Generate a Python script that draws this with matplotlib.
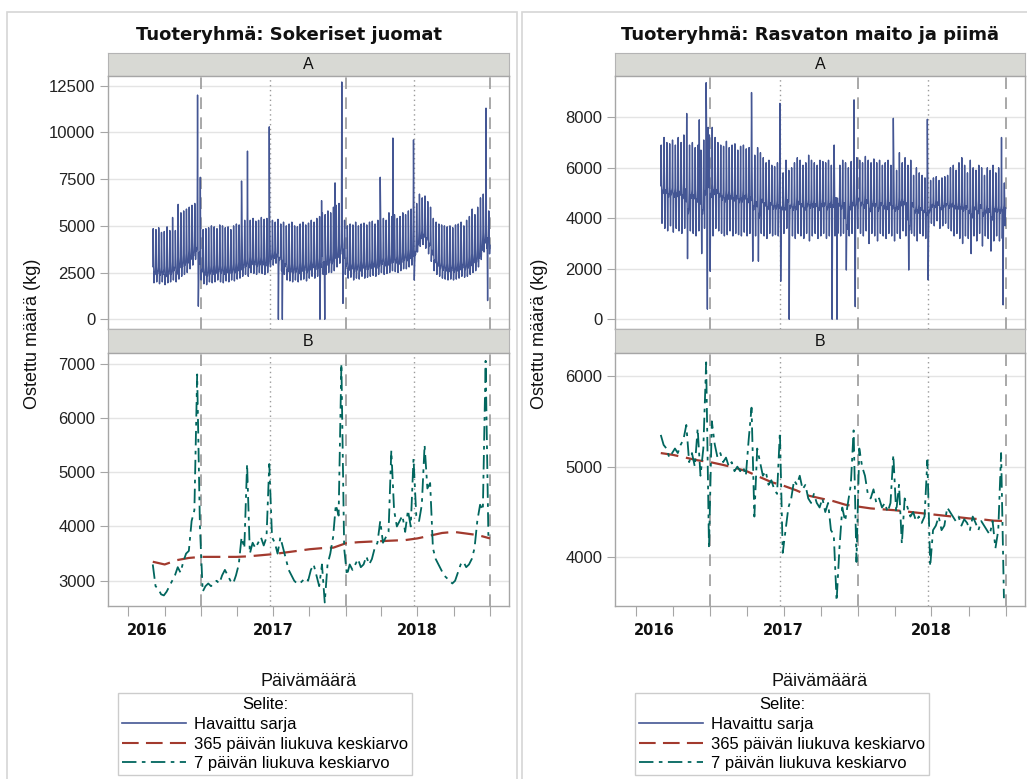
"""Daily purchase amounts for two product groups, SAS-style two-row panels."""

import matplotlib

matplotlib.use("Agg")
import matplotlib.pyplot as plt
import pandas as pd
from matplotlib.lines import Line2D
from matplotlib.patches import Rectangle

FIG_W, FIG_H = 1027, 779

BLUE = "#445694"
RED = "#A23A2E"
GREEN = "#01665E"
REF_GRAY = "#9a9a9a"

plt.rcParams["font.family"] = ["Liberation Sans", "DejaVu Sans"]

DAY_START = "2016-09-01"
DAY_END = "2018-12-31"

# weekday shape of the daily series (Mon..Sun), fraction between weekly low and peak
SUGAR_WEEKDAY = [0.20, 0.15, 0.20, 0.30, 1.00, 0.45, 0.00]
MILK_WEEKDAY = [0.42, 0.38, 0.42, 0.48, 1.00, 0.50, 0.00]

# weekly peak / low of the observed daily series, 7-day blocks from 2016-09-01
SUGAR_PEAK = [
    4850, 4800, 4900, 4650, 4700, 4950, 4750,
    5450, 4750, 6150, 5700, 5800, 5900, 6000, 6100, 6200,
    6000,
    4900, 4800, 4850, 4900, 5000, 4950, 4850, 5050, 5000, 4900, 4950, 4800, 5000, 5100, 5050,
    5200, 5300, 5350, 5300, 5400, 5250, 5300, 5450, 5350, 5400,
    5500,
    5300, 5200, 5350, 5100, 5200,
    5000, 5100, 5200, 5000, 4950, 5100, 5200, 5050, 5150, 5300, 5200, 5400,
    5500, 5700, 5600, 5800, 5700, 6000, 6100, 6200,
    6300,
    5300, 5000, 5100, 5050, 5200, 5000, 5100, 5150, 5050, 5200, 5250, 5100, 5300,
    5500, 5400, 5300, 5700, 5500, 5600, 5400, 5500, 5700, 5600, 5800, 5900,
    6000,
    6200, 6700, 6500, 6600, 6300, 6000,
    5400, 5200, 5100, 5050, 5000, 4950, 5000, 4900, 5050, 5100, 5200, 5000,
    5300, 5500, 5900, 5600, 6000, 6500, 6700, 6600, 5800,
]
SUGAR_LOW = [
    1950, 2000, 1900, 2000, 1850, 1950, 2000,
    2100, 2000, 2150, 2300, 2400, 2500, 2700, 2900, 3200,
    3000,
    2100, 1900, 1850, 2000, 1950, 2000, 2100, 2000, 1950, 2050, 2000, 2100, 2050, 2150, 2200,
    2300, 2400, 2300, 2500, 2450, 2400, 2500, 2450, 2400, 2500,
    2800,
    2900, 3000, 2800, 2600, 2400,
    2100, 2050, 2000, 2100, 2000, 2100, 2150, 2050, 2200, 2300, 2200, 2300,
    2300, 2400, 2400, 2500, 2500, 2600, 2800, 3000,
    3100,
    2400, 2200, 2250, 2100, 2200, 2150, 2300, 2200, 2250, 2300, 2350, 2300, 2400,
    2500, 2400, 2450, 2500, 2600, 2550, 2500, 2600, 2700, 2700, 2800, 2900,
    3000,
    3600, 3900, 4000, 3800, 3500, 3100,
    2600, 2400, 2300, 2200, 2150, 2100, 2150, 2100, 2150, 2200, 2300, 2250,
    2300, 2400, 2500, 2600, 2800, 3200, 3600, 3800, 3500,
]
SUGAR_SPECIAL_DAYS = {
    "2016-12-23": 12000, "2016-12-24": 4200, "2016-12-25": 700, "2016-12-26": 2200,
    "2016-12-30": 7600, "2017-04-13": 7400, "2017-04-28": 9000, "2017-06-22": 10300,
    "2017-07-15": 0, "2017-07-25": 0, "2017-10-28": 0, "2017-11-09": 0,
    "2017-11-01": 6350, "2017-12-05": 7300, "2017-12-22": 12700, "2017-12-24": 4000,
    "2017-12-25": 850, "2018-03-29": 7600, "2018-04-30": 9700, "2018-06-21": 9600,
    "2018-06-23": 2100, "2018-12-21": 11300, "2018-12-24": 4000, "2018-12-25": 1000,
}

MILK_PEAK = [
    6900, 7200, 7000, 6950, 7100, 6900, 7200, 7000, 7300,
    7100, 6900, 7000, 6800, 6900, 6700, 7100,
    7600,
    7300, 7600, 7200,
    7000, 6900, 6850, 7050, 6800, 6900, 6950, 6700, 6850, 6900, 6750, 6800,
    6900,
    6500, 6800, 6600, 6400, 6200, 6300, 6100, 6050, 6200,
    6000,
    5800, 6300, 5900, 6000, 6200,
    6400, 6300, 6100, 6200, 6500, 6300, 6200, 6100, 6300, 6250, 6200, 6300, 6100,
    6900,
    6200, 6100, 6300, 6200, 6000, 6250, 6300,
    6400, 6300, 6200, 6450, 6300, 6200, 6350, 6200, 6300, 6100, 6200, 6300, 6100,
    6200, 5900, 6600, 6200, 6400, 6100, 6300, 5700, 6000, 5800, 5700, 5600, 5650,
    5500, 5600, 5650, 5500, 5600, 5650, 5700,
    6000, 6100, 5900, 6200, 6400, 6100, 5800, 6300, 6000, 5900,
    6100, 6000, 5700, 6000, 5900, 6100, 5800, 6000, 5900,
    5400,
]
MILK_LOW = [
    3800, 3600, 3500, 3700, 3450, 3600, 3500, 3400, 3600,
    2400, 3500, 3400, 3300, 3500, 2600, 3600,
    3500,
    3300, 3300, 3600,
    3500, 3400, 3300, 3350, 3500, 3300, 3400, 3350, 3300, 3450, 3300, 3400,
    2750,
    3300, 2300, 3400, 3300, 3200, 3400, 3300, 3350, 3300,
    3300,
    3400, 3600, 3500, 3300, 3200,
    3400, 3300, 3200, 3400, 3100, 3300, 3400, 3200, 3300, 3400, 3200, 3300, 3400,
    3300, 3400, 3300, 3400, 1950, 3300, 3400, 3300,
    3600, 3400, 3300, 3500, 3000, 3400, 3300, 3100, 3400, 3300, 3200, 3400, 3300,
    3100, 3400, 3200, 3500, 3300, 1950, 3400, 3300, 3100, 3400, 3300, 3200, 3350,
    3800, 3700, 3900, 3600, 3700, 3800, 3600,
    3500, 3300, 3400, 3200, 3000, 3300, 3200, 2600, 3300, 3100,
    3400, 2900, 3300, 3200, 2700, 3100, 3300, 3100, 3200,
    3700,
]
MILK_SPECIAL_DAYS = {
    "2016-11-04": 8150, "2016-12-05": 7900, "2016-12-22": 9370, "2016-12-24": 3000,
    "2016-12-25": 400, "2016-12-27": 7600, "2017-01-01": 1900, "2017-04-13": 8980,
    "2017-04-16": 2300, "2017-06-22": 8550, "2017-06-24": 1500, "2017-07-15": 0,
    "2017-10-29": 0, "2017-11-10": 0, "2017-12-22": 8690, "2017-12-25": 500,
    "2018-03-29": 7960, "2018-06-21": 7920, "2018-06-23": 1560, "2018-12-21": 7200,
    "2018-12-25": 570,
}

# 7-day moving average, one reading per week from 2016-09-01
SUGAR_MA7 = [
    3300, 2900, 2850, 2750, 2730, 2800, 2900, 3000, 3100, 3250,
    3150, 3350, 3500, 3550, 4100, 4300, 6800, 4000, 2800, 2900,
    2950, 2900, 2950, 3000, 2950, 3100, 3200, 3100, 3000, 2950,
    3100, 3300, 3800, 3600, 5150, 3500, 3700, 3600, 3700, 3800,
    3650, 3800, 5150, 3800, 3700, 3500, 3800, 3600, 3400, 3200,
    3100, 3000, 2950, 2950, 3000, 3050, 3000, 3200, 3300, 3100,
    2900, 3300, 2600, 3300, 3500, 3800, 4400, 4200, 7000, 3600,
    3100, 3300, 3200, 3300, 3400, 3250, 3300, 3450, 3300, 3400,
    3600, 3700, 4100, 3700, 3800, 3900, 5400, 4300, 4000, 4100,
    4200, 3900, 4300, 4000, 5250, 4200, 4100, 4400, 5500, 4700,
    4800, 3600, 3400, 3300, 3200, 3100, 3050, 3000, 2950, 3000,
    3150, 3300, 3350, 3250, 3300, 3400, 3600, 4100, 4400, 4300,
    7050, 3800,
]
MILK_MA7 = [
    5350, 5240, 5200, 5100, 5150, 5200, 5150, 5240, 5300, 5460,
    5050, 5150, 5000, 5420, 4900, 5200, 6150, 4100, 5500, 5250,
    5100, 5150, 5050, 5100, 5000, 5050, 4950, 5000, 4950, 5000,
    4900, 5300, 5650, 4450, 5200, 5050, 4900, 4950, 4800, 4850,
    4750, 4700, 5380, 4050, 4300, 4550, 4650, 4850, 4800, 4900,
    4750, 4800, 4650, 4600, 4700, 4600, 4550, 4650, 4500, 4600,
    4300, 4250, 3520, 4100, 4550, 4400, 4600, 4800, 5400, 3950,
    5200, 5000, 4900, 4700, 4650, 4750, 4600, 4650, 4550, 4600,
    4500, 4600, 5130, 4500, 4800, 4150, 4650, 4550, 4450, 4500,
    4400, 4450, 4380, 4450, 5070, 3900, 4300, 4350, 4450, 4300,
    4350, 4550, 4500, 4450, 4400, 4450, 4350, 4420, 4380, 4300,
    4450, 4380, 4300, 4400, 4350, 4300, 4250, 4400, 4100, 4300,
    5150, 3550,
]

# 365-day moving average, month starts Sep 2016 .. Dec 2018 plus last day
MA365_DATES = list(pd.date_range("2016-09-01", "2018-12-01", freq="MS")) + [pd.Timestamp("2018-12-31")]
SUGAR_MA365 = [
    3350, 3300, 3380, 3420, 3440, 3440, 3440, 3440, 3450, 3470, 3490, 3520,
    3550, 3580, 3600, 3610, 3690, 3710, 3720, 3730, 3740, 3750, 3780, 3830,
    3880, 3900, 3870, 3840, 3780,
]
MILK_MA365 = [
    5150, 5130, 5100, 5070, 5050, 5020, 4990, 4950, 4890, 4830, 4790, 4740,
    4680, 4650, 4620, 4580, 4560, 4540, 4530, 4520, 4505, 4490, 4475, 4460,
    4445, 4430, 4420, 4405, 4400,
]

YEAR_BREAKS = ["2017-01-01", "2018-01-01", "2019-01-01"]
MIDSUMMER = ["2017-06-23", "2018-06-22"]
YEAR_LABELS = ["2016", "2017", "2018"]
YEAR_LABEL_DATES = ["2016-08-17", "2017-07-01", "2018-07-01"]
X_LIMITS = ("2016-05-11", "2019-02-17")

LEGEND_LABELS = ["Havaittu sarja", "365 päivän liukuva keskiarvo", "7 päivän liukuva keskiarvo"]

PANELS = [
    {
        "title": "Tuoteryhmä: Sokeriset juomat",
        "x0": 108, "x1": 509, "title_x": 289, "border": (7, 517),
        "peak": SUGAR_PEAK, "low": SUGAR_LOW, "weekday": SUGAR_WEEKDAY,
        "special": SUGAR_SPECIAL_DAYS, "ma7": SUGAR_MA7, "ma365": SUGAR_MA365,
        "ylim_a": (-520, 13020), "yticks_a": [0, 2500, 5000, 7500, 10000, 12500],
        "ylim_b": (2535, 7195), "yticks_b": [3000, 4000, 5000, 6000, 7000],
        "legend_x": 118,
    },
    {
        "title": "Tuoteryhmä: Rasvaton maito ja piimä",
        "x0": 615, "x1": 1025, "title_x": 810, "border": (522, 1040),
        "peak": MILK_PEAK, "low": MILK_LOW, "weekday": MILK_WEEKDAY,
        "special": MILK_SPECIAL_DAYS, "ma7": MILK_MA7, "ma365": MILK_MA365,
        "ylim_a": (-385, 9635), "yticks_a": [0, 2000, 4000, 6000, 8000],
        "ylim_b": (3464, 6253), "yticks_b": [4000, 5000, 6000],
        "legend_x": 635,
    },
]


def fig_rect(x0, y0, x1, y1):
    return [x0 / FIG_W, 1 - y1 / FIG_H, (x1 - x0) / FIG_W, (y1 - y0) / FIG_H]


def daily_series(peak, low, weekday, special):
    days = pd.date_range(DAY_START, DAY_END, freq="D")
    values = []
    for i, day in enumerate(days):
        k = i // 7
        values.append(low[k] + (peak[k] - low[k]) * weekday[day.weekday()])
    series = pd.Series(values, index=days, dtype=float)
    for day, value in special.items():
        series[pd.Timestamp(day)] = value
    return series


def style_axis(ax, ylim, yticks, show_years):
    ax.set_ylim(*ylim)
    ax.set_yticks(yticks)
    ax.set_xlim(pd.Timestamp(X_LIMITS[0]), pd.Timestamp(X_LIMITS[1]))
    ax.grid(axis="y", color="#e4e4e4", linewidth=1.0, zorder=0)
    ax.set_axisbelow(True)
    for spine in ax.spines.values():
        spine.set_color("#a6a6a6")
        spine.set_linewidth(1.0)
    ax.tick_params(axis="y", length=6, color="#a6a6a6", labelsize=12, labelcolor="#222222", pad=3)
    quarters = pd.date_range("2016-07-01", "2019-01-01", freq="QS")
    ax.set_xticks(quarters)
    ax.set_xticklabels([])
    if show_years:
        # year labels sit on minor ticks, some of which share a date with a quarter tick
        ax.xaxis.remove_overlapping_locs = False
        ax.tick_params(axis="x", which="major", length=7, color="#a6a6a6", direction="out")
        ax.set_xticks([pd.Timestamp(d) for d in YEAR_LABEL_DATES], minor=True)
        ax.set_xticklabels(YEAR_LABELS, minor=True, fontsize=10.5, fontweight="bold",
                           family="DejaVu Sans", color="#111111")
        ax.tick_params(axis="x", which="minor", length=0, pad=12)
    else:
        ax.tick_params(axis="x", which="major", length=0)
    for day in YEAR_BREAKS:
        ax.axvline(pd.Timestamp(day), color=REF_GRAY, linewidth=1.2, dashes=(7, 5), zorder=1.5)
    for day in MIDSUMMER:
        ax.axvline(pd.Timestamp(day), color=REF_GRAY, linewidth=1.0, dashes=(1, 2.5), zorder=1.5)


def add_strip(fig, x0, x1, y0, y1, label):
    strip = fig.add_axes(fig_rect(x0, y0, x1, y1))
    strip.set_facecolor("#d8d9d4")
    strip.set_xticks([])
    strip.set_yticks([])
    for spine in strip.spines.values():
        spine.set_color("#b4b4b4")
    strip.text(0.5, 0.5, label, ha="center", va="center", fontsize=11.5, color="#111111",
               transform=strip.transAxes)


fig = plt.figure(figsize=(FIG_W / 100, FIG_H / 100), dpi=100)

week_dates = pd.date_range(DAY_START, periods=len(SUGAR_MA7), freq="7D")

for panel in PANELS:
    x0, x1 = panel["x0"], panel["x1"]
    bx0, bx1 = panel["border"]
    fig.patches.append(Rectangle((bx0 / FIG_W, -0.02), (bx1 - bx0) / FIG_W, 1.02 - 12 / FIG_H,
                                 transform=fig.transFigure, fill=False,
                                 edgecolor="#d6d6d6", linewidth=1.2))
    fig.text(panel["title_x"] / FIG_W, 1 - 35 / FIG_H, panel["title"], ha="center", va="center",
             fontsize=13, fontweight="bold", family="DejaVu Sans", color="#111111")

    add_strip(fig, x0, x1, 53, 76, "A")
    ax_a = fig.add_axes(fig_rect(x0, 76, x1, 329))
    daily = daily_series(panel["peak"], panel["low"], panel["weekday"], panel["special"])
    ax_a.plot(daily.index, daily.values, color=BLUE, linewidth=1.0, zorder=3)
    style_axis(ax_a, panel["ylim_a"], panel["yticks_a"], show_years=False)

    add_strip(fig, x0, x1, 329, 353, "B")
    ax_b = fig.add_axes(fig_rect(x0, 353, x1, 606))
    ax_b.plot(MA365_DATES, panel["ma365"], color=RED, linewidth=1.6, dashes=(8, 3.5), zorder=3)
    ax_b.plot(week_dates, panel["ma7"], color=GREEN, linewidth=1.3, dashes=(8, 3, 2, 3), zorder=4)
    style_axis(ax_b, panel["ylim_b"], panel["yticks_b"], show_years=True)

    fig.text((x0 - 75) / FIG_W, 1 - 334 / FIG_H, "Ostettu määrä (kg)", rotation=90,
             ha="center", va="center", fontsize=13, color="#111111")
    fig.text((x0 + x1) / 2 / FIG_W, 1 - 681 / FIG_H, "Päivämäärä", ha="center", va="center",
             fontsize=13, color="#111111")

    handles = [
        Line2D([], [], color=BLUE, linewidth=1.2),
        Line2D([], [], color=RED, linewidth=1.5, dashes=(8, 3.5)),
        Line2D([], [], color=GREEN, linewidth=1.3, dashes=(8, 3, 2, 3)),
    ]
    leg = fig.legend(handles, LEGEND_LABELS, title="Selite:", loc="upper left",
                     bbox_to_anchor=(panel["legend_x"] / FIG_W, 1 - 693 / FIG_H),
                     frameon=True, fancybox=False, edgecolor="#cccccc", framealpha=1,
                     fontsize=12, title_fontsize=12, handlelength=3.8, handletextpad=0.5,
                     labelspacing=0.28, borderpad=0.25, borderaxespad=0)
    leg.get_frame().set_linewidth(1.0)

fig.savefig("out.png", dpi=100)
